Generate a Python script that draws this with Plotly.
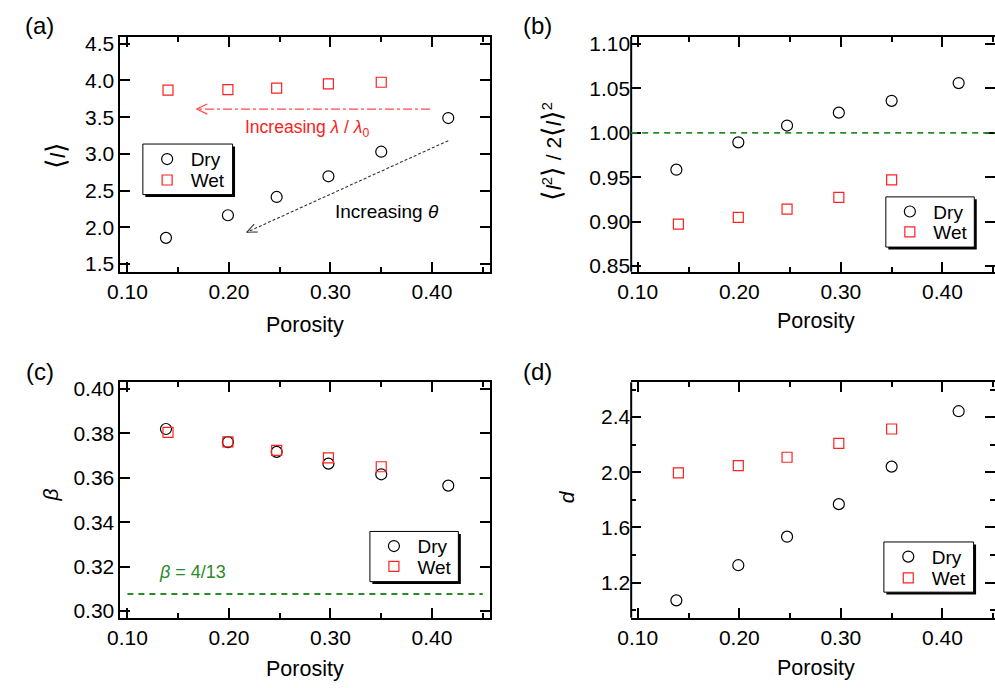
import math
import plotly.graph_objects as go

W, H = 995, 688
FONT = "Liberation Sans, Arial, Helvetica, sans-serif"

# ---------------- data ----------------
porosity_dry = [0.138, 0.199, 0.247, 0.298, 0.350, 0.416]
porosity_wet = [0.140, 0.199, 0.247, 0.298, 0.350]

mean_l_dry = [1.857, 2.165, 2.414, 2.695, 3.030, 3.488]
mean_l_wet = [3.867, 3.876, 3.894, 3.952, 3.975]

ratio_dry = [0.9585, 0.9893, 1.0082, 1.0227, 1.036, 1.056]
ratio_wet = [0.8973, 0.9048, 0.914, 0.9274, 0.947]

beta_dry = [0.382, 0.3761, 0.3717, 0.3664, 0.3616, 0.3565]
beta_wet = [0.3805, 0.3762, 0.3724, 0.369, 0.365]

d_dry = [1.071, 1.326, 1.533, 1.769, 2.041, 2.443]
d_wet = [1.995, 2.048, 2.109, 2.209, 2.314]

ratio_ref = 1.0            # dashed line in (b)
beta_ref = 4 / 13          # dashed line in (c)
beta_ref_span = [0.10, 0.45]

# arrows in (a): (start x, start y, tip x, tip y)
arrow_lambda = (0.398, 3.61, 0.168, 3.61)
arrow_theta = (0.416, 3.18, 0.2175, 1.933)

# ---------------- layout constants ----------------
boxes = {
    "a": (108, 32.3, 483, 271),
    "b": (626, 32.3, 995, 271),
    "c": (108, 383.5, 483, 622.7),
    "d": (626, 383.5, 995, 622.7),
}
xranges = {
    "a": [0.0932, 0.4573],
    "b": [0.0935, 0.4518],
    "c": [0.0932, 0.4573],
    "d": [0.0935, 0.4518],
}
yranges = {
    "a": [1.397, 4.594],
    "b": [0.8437, 1.1081],
    "c": [0.297, 0.403],
    "d": [0.945, 2.652],
}
ytick = {
    "a": dict(tick0=1.5, dtick=0.5, tickformat=".1f"),
    "b": dict(tick0=0.85, dtick=0.05, tickformat=".2f"),
    "c": dict(tick0=0.30, dtick=0.02, tickformat=".2f"),
    "d": dict(tick0=1.2, dtick=0.4, tickformat=".1f",
              minor=dict(ticks="inside", ticklen=5, tickwidth=1.5, tickcolor="black",
                         tick0=1.0, dtick=0.2, showgrid=False)),
}
axid = {"a": "", "b": "2", "c": "3", "d": "4"}

GREEN = "#2a8a2a"
RED = "#ff2020"


def pxx(px):
    return px / W


def pxy(py):
    return 1 - py / H


fig = go.Figure()

layout = dict(
    width=W, height=H,
    margin=dict(l=0, r=0, t=0, b=0),
    paper_bgcolor="white", plot_bgcolor="rgba(0,0,0,0)",
    font=dict(family=FONT, size=21, color="black"),
    showlegend=True,
)

for k in "abcd":
    l, t, r, b = boxes[k]
    n = axid[k]
    full_frame = k in ("a", "c")
    layout["xaxis" + n] = dict(
        domain=[pxx(l), pxx(r)], range=xranges[k], anchor="y" + n,
        showline=True, linecolor="black", linewidth=2, mirror="ticks",
        ticks="inside", ticklen=10, tickwidth=1.5, tickcolor="black",
        tick0=0.1, dtick=0.1, tickformat=".2f",
        minor=dict(ticks="inside", ticklen=5, tickwidth=1.5, tickcolor="black",
                   tick0=0.05, dtick=0.05, showgrid=False),
        showgrid=False, zeroline=False,
        tickfont=dict(family=FONT, size=21, color="black"),
    )
    yd = dict(
        domain=[pxy(b), pxy(t)], range=yranges[k], anchor="x" + n,
        showline=full_frame, linecolor="black", linewidth=2, mirror="ticks",
        ticks="inside", ticklen=10, tickwidth=1.5, tickcolor="black",
        showgrid=False, zeroline=False,
        tickfont=dict(family=FONT, size=21, color="black"),
    )
    yd.update(ytick[k])
    layout["yaxis" + n] = yd

# ---------------- traces ----------------
series = [
    ("a", porosity_dry, mean_l_dry, porosity_wet, mean_l_wet),
    ("b", porosity_dry, ratio_dry, porosity_wet, ratio_wet),
    ("c", porosity_dry, beta_dry, porosity_wet, beta_wet),
    ("d", porosity_dry, d_dry, porosity_wet, d_wet),
]
legend_rows = {  # (box left, box top, box right, box bottom, symbol x, dry row y, wet row y)
    "a": (130.7, 141.3, 221.7, 192.7, 155, 156.7, 178.0),
    "b": (884.3, 195.0, 974.0, 246.0, 908.3, 210.0, 230.7),
    "c": (361.0, 535.0, 450.7, 586.0, 385.0, 550.0, 570.7),
    "d": (882.3, 545.7, 973.3, 596.7, 906.7, 560.7, 582.3),
}
shapes = []
li = 1
for k, xd, yd_, xw, yw in series:
    n = axid[k]
    lg_dry = "legend" if li == 1 else "legend%d" % li
    lg_wet = "legend%d" % (li + 1)
    li += 2
    fig.add_trace(go.Scatter(
        x=xd, y=yd_, mode="markers", name="Dry", legend=lg_dry,
        xaxis="x" + n, yaxis="y" + n,
        marker=dict(symbol="circle-open", size=11, color="black", line=dict(width=1.2)),
    ))
    fig.add_trace(go.Scatter(
        x=xw, y=yw, mode="markers", name="Wet", legend=lg_wet,
        xaxis="x" + n, yaxis="y" + n,
        marker=dict(symbol="square-open", size=10, color=RED, line=dict(width=1.2)),
    ))
    bl, bt, br, bb, sx, ry1, ry2 = legend_rows[k]
    for lg, ry in ((lg_dry, ry1), (lg_wet, ry2)):
        layout[lg] = dict(
            x=pxx(sx - 23.5), y=pxy(ry), xanchor="left", yanchor="middle",
            bgcolor="rgba(0,0,0,0)", borderwidth=0,
            font=dict(family=FONT, size=19, color="black"),
            itemwidth=37,
        )
    # legend frame with drop shadow
    shapes.append(dict(type="rect", xref="paper", yref="paper",
                       x0=pxx(bl + 2.5), x1=pxx(br + 2.5), y0=pxy(bb + 2.5), y1=pxy(bt + 2.5),
                       fillcolor="black", line=dict(width=0), layer="above"))
    shapes.append(dict(type="rect", xref="paper", yref="paper",
                       x0=pxx(bl), x1=pxx(br), y0=pxy(bb), y1=pxy(bt),
                       fillcolor="white", line=dict(color="black", width=1), layer="above"))

# left frame lines for (b) and (d): their right side is cut off by the image edge
for k in ("b", "d"):
    n = axid[k]
    shapes.append(dict(type="line", xref="x%s domain" % n, yref="y%s domain" % n,
                       x0=0, x1=0, y0=0, y1=1, line=dict(color="black", width=2)))

# reference lines
shapes.append(dict(type="line", xref="x2 domain", yref="y2", x0=0, x1=1,
                   y0=ratio_ref, y1=ratio_ref, line=dict(color=GREEN, width=1.8, dash="6px,5px")))
shapes.append(dict(type="line", xref="x3", yref="y3", x0=beta_ref_span[0], x1=beta_ref_span[1],
                   y0=beta_ref, y1=beta_ref, line=dict(color=GREEN, width=1.8, dash="6px,5px")))

# arrows in (a)
xppu = (boxes["a"][2] - boxes["a"][0]) / (xranges["a"][1] - xranges["a"][0])
yppu = (boxes["a"][3] - boxes["a"][1]) / (yranges["a"][1] - yranges["a"][0])


def arrow(spec, color, dash, width, head_len, head_ang):
    x0, y0, x1, y1 = spec
    out = [dict(type="line", xref="x", yref="y", x0=x0, y0=y0, x1=x1, y1=y1,
                line=dict(color=color, width=width, dash=dash))]
    bx = (x0 - x1) * xppu
    by = (y0 - y1) * yppu
    base = math.atan2(by, bx)
    for s in (1, -1):
        a = base + s * math.radians(head_ang)
        out.append(dict(type="line", xref="x", yref="y",
                        xsizemode="pixel", ysizemode="pixel", xanchor=x1, yanchor=y1,
                        x0=0, y0=0, x1=head_len * math.cos(a), y1=head_len * math.sin(a),
                        line=dict(color=color, width=width)))
    return out


shapes += arrow(arrow_lambda, "#ff4a4a", "dashdot", 1.2, 12, 25)
shapes += arrow(arrow_theta, "#333333", "3px,2px", 1.1, 11, 23)

# ---------------- annotations ----------------
ann = []


def txt(text, px, py, size, color="black", angle=0):
    ann.append(dict(text=text, xref="paper", yref="paper", x=pxx(px), y=pxy(py),
                    xanchor="center", yanchor="middle", showarrow=False, textangle=angle,
                    font=dict(family=FONT, size=size, color=color)))


for lab, px, py in (("(a)", 26, 21), ("(b)", 530.5, 21), ("(c)", 26.3, 372.8), ("(d)", 530.8, 372.8)):
    txt(lab, px, py, 24)
for px, py in ((295.5, 325), (813, 321), (295.5, 675), (813, 673.3)):
    txt("Porosity", px, py, 21.5)

BR = "<span style='font-size:27px'>%s</span>"
txt(BR % "⟨" + "<i>l</i>" + BR % "⟩", 42, 153, 21, angle=-90)
txt(BR % "⟨" + "<i>l</i><sup>2</sup>" + BR % "⟩" + " / 2" + BR % "⟨" + "<i>l</i>" + BR % "⟩" + "<sup>2</sup>",
    545, 149, 21, angle=-90)
txt("<i>β</i>", 37, 498, 21, angle=-90)
txt("<i>d</i>", 560, 500, 21, angle=-90)

ann.append(dict(text="Increasing <i>λ</i> / <i>λ</i><sub>0</sub>", xref="x", yref="y",
                x=0.2766, y=3.35, xanchor="center", yanchor="middle", showarrow=False,
                font=dict(family=FONT, size=17.5, color=RED)))
ann.append(dict(text="Increasing <i>θ</i>", xref="x", yref="y",
                x=0.3556, y=2.214, xanchor="center", yanchor="middle", showarrow=False,
                font=dict(family=FONT, size=19, color="black")))
ann.append(dict(text="<i>β</i> = 4/13", xref="x3", yref="y3",
                x=0.164, y=0.3174, xanchor="center", yanchor="middle", showarrow=False,
                font=dict(family=FONT, size=18, color=GREEN)))

layout["shapes"] = shapes
layout["annotations"] = ann
fig.update_layout(**layout)

fig.write_html("out.html", config={"displayModeBar": False},
               post_script="document.body.style.margin='0px';document.body.style.overflow='hidden';")
